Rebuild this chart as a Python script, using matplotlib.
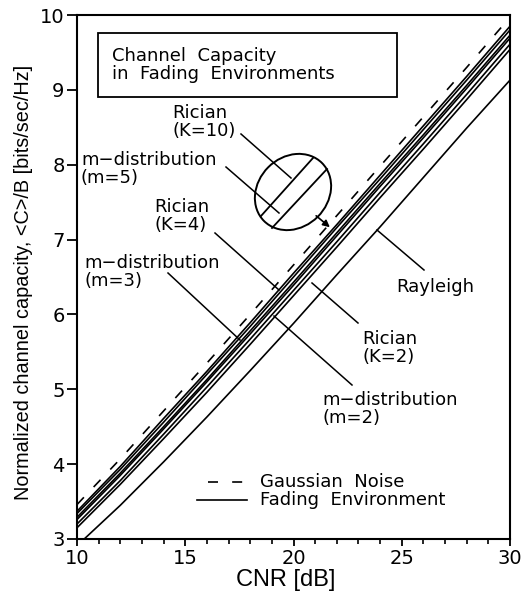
import matplotlib
matplotlib.use("Agg")
import matplotlib.pyplot as plt
import matplotlib.transforms as mtransforms
from matplotlib.patches import Ellipse, Rectangle
from matplotlib.lines import Line2D
import numpy as np

# CNR grid [dB] and capacities [bits/sec/Hz]
cnr = [10, 12, 14, 16, 18, 20, 22, 24, 26, 28, 30]
gaussian = [3.46, 4.07, 4.71, 5.35, 6.00, 6.66, 7.32, 7.98, 8.64, 9.30, 9.97]
rician_k10 = [3.37, 3.97, 4.61, 5.24, 5.89, 6.55, 7.20, 7.86, 8.52, 9.18, 9.85]
nakagami_m5 = [3.34, 3.93, 4.56, 5.20, 5.84, 6.50, 7.16, 7.81, 8.47, 9.13, 9.80]
nakagami_m3 = [3.29, 3.88, 4.50, 5.13, 5.78, 6.43, 7.09, 7.75, 8.40, 9.06, 9.73]
rician_k4 = [3.26, 3.85, 4.47, 5.10, 5.74, 6.39, 7.05, 7.71, 8.36, 9.02, 9.69]
nakagami_m2 = [3.20, 3.78, 4.40, 5.03, 5.67, 6.32, 6.97, 7.63, 8.28, 8.94, 9.61]
rician_k2 = [3.15, 3.73, 4.34, 4.96, 5.60, 6.25, 6.90, 7.56, 8.21, 8.87, 9.54]
rayleigh = [2.91, 3.45, 4.03, 4.63, 5.25, 5.88, 6.53, 7.17, 7.83, 8.49, 9.13]

fading = [rician_k10, nakagami_m5, nakagami_m3, rician_k4, nakagami_m2, rician_k2, rayleigh]

W, H = 531, 598
fig = plt.figure(figsize=(W / 100, H / 100), dpi=100)
ax = fig.add_axes([77 / W, 1 - 539 / H, (510 - 77) / W, (539 - 15) / H])

# pixel coordinates of the reference image (y down)
T = mtransforms.Affine2D().scale(1 / 100, -1 / 100).translate(0, H / 100) + fig.dpi_scale_trans

ax.plot(cnr, gaussian, color='k', lw=1.2, dashes=(6, 8.5))
for c in fading:
    ax.plot(cnr, c, color='k', lw=1.2)

ax.set_xlim(10, 30)
ax.set_ylim(3, 10)
ax.set_xticks([10, 15, 20, 25, 30])
ax.set_xticks(np.arange(10, 31, 1), minor=True)
ax.set_yticks([3, 4, 5, 6, 7, 8, 9, 10])
ax.tick_params(axis='x', direction='out', length=5, width=1.3, labelsize=14, pad=2)
ax.tick_params(axis='x', which='minor', direction='out', length=3.5, width=1.2)
ax.tick_params(axis='y', direction='out', length=7, width=1.3, labelsize=14, pad=2)
for lab in ax.get_xticklabels() + ax.get_yticklabels():
    lab.set_family('DejaVu Sans')
for s in ax.spines.values():
    s.set_linewidth(1.5)

ax.set_xlabel('CNR [dB]', family='Liberation Sans', fontsize=17)
ax.xaxis.set_label_coords(0.483, -0.058)
ax.set_ylabel('Normalized channel capacity, <C>/B [bits/sec/Hz]', family='Liberation Sans',
              fontsize=14.3)
ax.yaxis.set_label_coords(-0.102, 0.49)

fs = 13
tk = dict(transform=T, family='DejaVu Sans', fontsize=fs, ha='left', va='top', linespacing=1.0)

# title box
fig.add_artist(Rectangle((98, 97), 299, -64, transform=T, fill=False, lw=1.3, ec='k'))
fig.text(112, 47, 'Channel  Capacity\nin  Fading  Environments', **tk)

# magnified ellipse
fig.add_artist(Ellipse((293, 192), 82, 70, angle=-45, transform=T, fill=False, lw=1.4, ec='k'))
fig.add_artist(Line2D([261, 313], [216, 158], transform=T, color='k', lw=1.3))
fig.add_artist(Line2D([272, 327], [228, 169], transform=T, color='k', lw=1.3))
ax.annotate('', xy=(332, 229), xytext=(314, 214), xycoords=T, textcoords=T,
            arrowprops=dict(arrowstyle='-|>', color='k', lw=1.2, mutation_scale=10))

def leader(x0, y0, x1, y1):
    fig.add_artist(Line2D([x0, x1], [y0, y1], transform=T, color='k', lw=1.1))

fig.text(172, 104, 'Rician\n(K=10)', **tk)
leader(241, 134, 291, 178)
fig.text(81, 151, 'm\u2212distribution\n(m=5)', **tk)
leader(226, 167, 279, 213)
fig.text(154, 198, 'Rician\n(K=4)', **tk)
leader(215, 233, 279, 290)
fig.text(84, 254, 'm\u2212distribution\n(m=3)', **tk)
leader(168, 273, 240, 340)
fig.text(396, 278, 'Rayleigh', **tk)
leader(424, 270, 377, 230)
fig.text(362, 330, 'Rician\n(K=2)', **tk)
leader(358, 323, 312, 283)
fig.text(322, 391, 'm\u2212distribution\n(m=2)', **tk)
leader(352, 385, 274, 316)

# legend
fig.add_artist(Line2D([208, 247], [482, 482], transform=T, color='k', lw=1.2, dashes=(6, 8.5)))
fig.add_artist(Line2D([197, 247], [500, 500], transform=T, color='k', lw=1.2))
fig.text(260, 473, 'Gaussian  Noise', **tk)
fig.text(260, 491, 'Fading  Environment', **tk)

fig.savefig('out.png', dpi=100)
